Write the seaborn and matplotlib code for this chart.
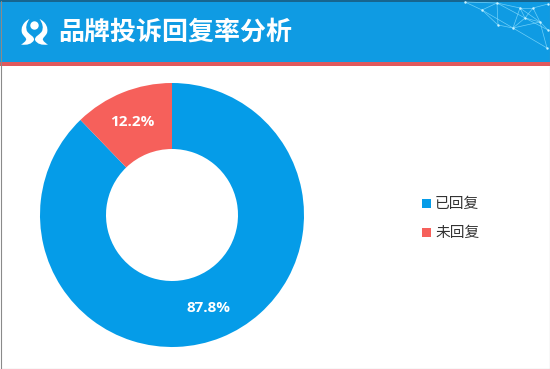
import matplotlib
matplotlib.use("Agg")
import matplotlib.pyplot as plt
from matplotlib.patches import Rectangle, Circle, PathPatch
from matplotlib.path import Path
import seaborn as sns

sns.set_theme(style="white")
plt.rcParams['font.family'] = ['Noto Sans CJK SC', 'DejaVu Sans']

title = "品牌投诉回复率分析"
categories = ["已回复", "未回复"]
values = [87.8, 12.2]
palette = sns.color_palette(["#059CE8", "#F6605B"])

fig = plt.figure(figsize=(5.5, 3.69), dpi=100, facecolor="white")

# page layer in pixel coordinates
bg = fig.add_axes([0, 0, 1, 1])
bg.set_xlim(0, 550); bg.set_ylim(369, 0); bg.axis("off")
bg.add_patch(Rectangle((0, 0), 550, 62, color="#0F9BE3", lw=0))
bg.add_patch(Rectangle((0, 0), 550, 1.5, color="#17658F", lw=0))
bg.add_patch(Rectangle((0, 62), 550, 4, color="#E0595C", lw=0))
for edge in [((0.5, 0.5), (0.5, 368.5)), ((549.5, 0.5), (549.5, 368.5)), ((0.5, 368.5), (549.5, 368.5))]:
    bg.plot(*zip(*edge), color="#8A8A8A", lw=0.8)

# network decoration, top right corner
nodes = [(465, 2), (497, 3), (482, 10), (520, 8), (533, 8), (548, 30), (498, 25),
         (513, 28), (547, 48), (525, 18), (540, 22), (548, 4)]
links = [(0,2),(0,1),(1,2),(1,6),(2,6),(1,3),(3,7),(7,8),(6,7),(3,9),(9,10),(10,5),
         (4,9),(4,10),(7,9),(3,4),(4,11),(10,8),(9,5),(7,10),(1,9),(2,7),(3,10)]
for a, b in links:
    bg.plot([nodes[a][0], nodes[b][0]], [nodes[a][1], nodes[b][1]],
            color="#8FE0FF", lw=0.5, alpha=0.75, solid_capstyle="round")
bg.scatter(*zip(*nodes), s=3, color="#C8F2FF", lw=0, zorder=3)

# logo: head and two mirrored arms
bg.add_patch(Circle((34.5, 25.5), 4.2, color="white", lw=0))
arm = [(29.5, 19), (23, 22), (20.5, 28), (22, 33), (23.5, 36.5), (27, 38), (26, 40),
       (25, 42), (23, 43.5), (21, 44.5), (27, 45.5), (32, 44), (34, 40),
       (34.5, 36.5), (30, 35), (27.5, 32), (25, 28), (26.5, 23), (29.5, 19)]
codes = [Path.MOVETO] + [Path.CURVE4] * 18
for mirror in (False, True):
    pts = [(69 - x, y) if mirror else (x, y) for x, y in arm]
    bg.add_patch(PathPatch(Path(pts, codes), facecolor="white", lw=0))

bg.text(58.5, 32.5, title, color="white", fontsize=18.7, fontweight="bold",
        ha="left", va="center")

# donut
ax = fig.add_axes([0, 0, 1, 1], facecolor="none")
wedges, _ = ax.pie(values, colors=palette, startangle=90, counterclock=False,
                   radius=132, center=(172, -215),
                   wedgeprops=dict(width=66, linewidth=0))
ax.set_xlim(0, 550); ax.set_ylim(-369, 0); ax.set_aspect("equal"); ax.axis("off")
ax.text(208.5, -307.5, f"{values[0]:.1f}%", color="white", fontsize=11,
        family="Open Sans", fontweight="bold", ha="center", va="center")
ax.text(132.5, -121.8, f"{values[1]:.1f}%", color="white", fontsize=11,
        family="Open Sans", fontweight="bold", ha="center", va="center")

# legend
for i, (name, col) in enumerate(zip(categories, palette)):
    y = 203.5 + i * 29
    bg.add_patch(Rectangle((422, y - 4.5), 9, 9, color=col, lw=0))
    bg.text(435, y, name, color="#333333", fontsize=10.6, ha="left", va="center")

fig.savefig("out.png", dpi=100)
